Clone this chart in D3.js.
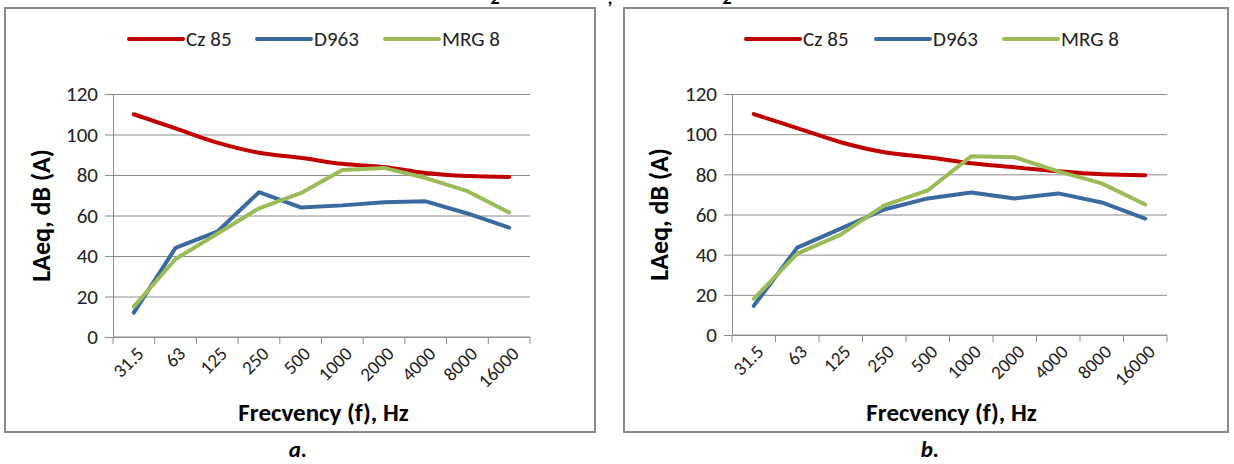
<!DOCTYPE html>
<html>
<head>
<meta charset="utf-8">
<script src="https://cdn.jsdelivr.net/npm/d3@7"></script>
<style>
  body { margin: 0; background: #fff; }
  svg { display: block; font-family: Carlito, Lato, "Open Sans", sans-serif; }
</style>
</head>
<body>
<svg id="chart" width="1234" height="464"></svg>
<script>
// frequency bands
const categories = ["31.5", "63", "125", "250", "500", "1000", "2000", "4000", "8000", "16000"];
const seriesNames = ["Cz 85", "D963", "MRG 8"];
const yTicks = [0, 20, 40, 60, 80, 100, 120];

// panel a
const czA    = [110, 103, 96, 91, 88.5, 85.5, 84, 81, 79.5, 79];
const d963A  = [12, 44, 52, 71.5, 64, 65, 66.5, 67, 61, 54];
const mrgA   = [15, 38.5, 51, 63.5, 71, 82.5, 83.5, 78.5, 72, 61.5];

// panel b
const czB    = [110, 103, 96, 91, 88.5, 85.5, 83.5, 81.5, 80, 79.5];
const d963B  = [14.5, 43.5, 53, 62.5, 68, 71, 68, 70.5, 66, 58];
const mrgB   = [18, 40.5, 50, 64.5, 72, 89, 88.5, 81.5, 75.5, 65];

const colors = ["#c00000", "#3b6aa0", "#9bbb59"];
const gridColor = "#8c8c8c";

const svg = d3.select("#chart");

// bits of the caption above, cut off by the crop
svg.selectAll("text.cut")
  .data([{ x: 495, t: "2" }, { x: 610, t: "," }, { x: 727, t: "2" }])
  .enter().append("text")
  .attr("x", d => d.x).attr("y", 4)
  .attr("text-anchor", "middle")
  .attr("font-size", 18).attr("font-weight", "bold")
  .text(d => d.t);

function drawPanel(p, series, label) {
  const g = svg.append("g");

  // frame
  g.append("rect")
    .attr("x", p.box[0]).attr("y", 8)
    .attr("width", p.box[1] - p.box[0]).attr("height", 424)
    .attr("fill", "#fff").attr("stroke", "#8a8a8a").attr("stroke-width", 2);

  const x = d3.scaleBand().domain(categories).range([p.left, p.right]).padding(0);
  const y = d3.scaleLinear().domain([0, 120]).range([p.bottom, 94]);

  // gridlines
  g.append("g")
    .attr("transform", `translate(${p.left},0)`)
    .call(d3.axisLeft(y).tickValues(yTicks).tickSize(-(p.right - p.left)).tickFormat(""))
    .call(a => a.select(".domain").remove())
    .call(a => a.selectAll("line").attr("stroke", gridColor));

  // y axis
  g.append("g")
    .attr("transform", `translate(${p.left},0)`)
    .call(d3.axisLeft(y).tickValues(yTicks).tickSize(8).tickPadding(7))
    .call(a => a.select(".domain").attr("stroke", gridColor))
    .call(a => a.selectAll("line").attr("stroke", gridColor))
    .call(a => a.selectAll("text")
      .attr("font-size", 21).attr("fill", "#222")
      .attr("font-family", "Carlito, Lato, sans-serif"));

  // x axis line and ticks on band edges
  const edges = categories.map(c => x(c)).concat([p.right]);
  g.append("line")
    .attr("x1", p.left).attr("x2", p.right)
    .attr("y1", p.bottom).attr("y2", p.bottom)
    .attr("stroke", gridColor);
  g.selectAll("line.xt").data(edges).enter().append("line")
    .attr("x1", d => d).attr("x2", d => d)
    .attr("y1", p.bottom).attr("y2", p.bottom + 7)
    .attr("stroke", gridColor);

  // rotated tick labels
  g.selectAll("text.xl").data(categories).enter().append("text")
    .attr("transform", d => `translate(${x(d) + x.bandwidth() / 2 + 11},${p.bottom + 18}) rotate(-45)`)
    .attr("text-anchor", "end")
    .attr("font-size", 19).attr("fill", "#222")
    .text(d => d);

  // axis titles
  g.append("text")
    .attr("transform", `translate(${p.ylab},${(94 + p.bottom) / 2}) rotate(-90)`)
    .attr("text-anchor", "middle").attr("dy", "0.35em")
    .attr("font-size", 26).attr("font-weight", "bold")
    .text("LAeq, dB (A)");
  g.append("text")
    .attr("x", (p.left + p.right) / 2 + 2).attr("y", 421)
    .attr("text-anchor", "middle")
    .attr("font-size", 25).attr("font-weight", "bold")
    .text("Frecvency (f), Hz");

  // lines
  series.forEach((vals, i) => {
    const line = d3.line()
      .x((d, j) => x(categories[j]) + x.bandwidth() / 2)
      .y(d => y(d))
      .curve(i === 0 ? d3.curveMonotoneX : d3.curveLinear);
    g.append("path")
      .datum(vals)
      .attr("d", line)
      .attr("fill", "none")
      .attr("stroke", colors[i])
      .attr("stroke-width", 4)
      .attr("stroke-linecap", "round")
      .attr("stroke-linejoin", "round");
  });

  // legend
  seriesNames.forEach((name, i) => {
    const lx = p.legend[i];
    g.append("line")
      .attr("x1", lx).attr("x2", lx + 54)
      .attr("y1", 39).attr("y2", 39)
      .attr("stroke", colors[i]).attr("stroke-width", 4)
      .attr("stroke-linecap", "round");
    g.append("text")
      .attr("x", lx + 57).attr("y", 39).attr("dy", "0.35em")
      .attr("font-size", 21).attr("fill", "#222")
      .text(name);
  });

  // panel letter
  svg.append("text")
    .attr("x", p.letter).attr("y", 457)
    .attr("text-anchor", "middle")
    .attr("font-size", 23).attr("font-weight", "bold").attr("font-style", "italic")
    .text(label);
}

drawPanel({ box: [5, 595], left: 113, right: 530, bottom: 337, ylab: 41,
            legend: [129, 257, 385], letter: 298 }, [czA, d963A, mrgA], "a.");
drawPanel({ box: [624, 1228], left: 732, right: 1167, bottom: 335, ylab: 659,
            legend: [746, 876, 1004], letter: 930 }, [czB, d963B, mrgB], "b.");
</script>
</body>
</html>
